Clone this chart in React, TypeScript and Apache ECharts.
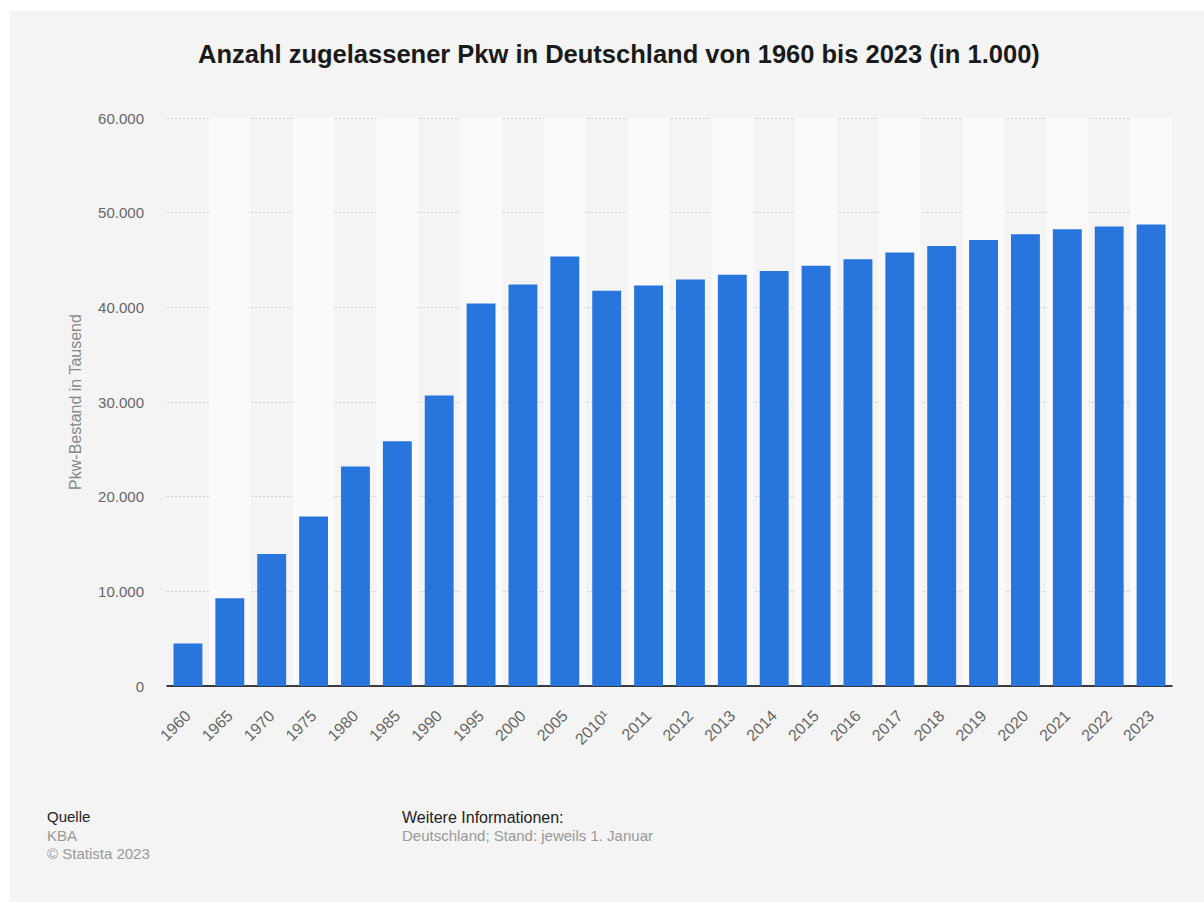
import React, { useEffect, useRef } from "react";
import * as echarts from "echarts";

const categories = [
  "1960", "1965", "1970", "1975", "1980", "1985", "1990", "1995", "2000", "2005",
  "2010¹", "2011", "2012", "2013", "2014", "2015", "2016", "2017", "2018", "2019",
  "2020", "2021", "2022", "2023",
];
const values = [
  4490, 9270, 13940, 17900, 23190, 25850, 30690, 40400, 42420, 45380,
  41740, 42300, 42930, 43430, 43850, 44400, 45070, 45800, 46470, 47100,
  47720, 48250, 48540, 48760,
];
const yTicks = { min: 0, max: 60000, interval: 10000 };

const title = "Anzahl zugelassener Pkw in Deutschland von 1960 bis 2023 (in 1.000)";
const yAxisName = "Pkw-Bestand in Tausend";

const fmt = (v: number) => String(v).replace(/\B(?=(\d{3})+(?!\d))/g, ".");

export default function App() {
  const ref = useRef<HTMLDivElement>(null);
  useEffect(() => {
    if (!ref.current) return;
    const chart = echarts.init(ref.current, null, { renderer: "svg" });
    const font = "'Liberation Sans', Arial, Helvetica, sans-serif";
    chart.setOption({
      animation: false,
      backgroundColor: "#ffffff",
      textStyle: { fontFamily: font },
      title: {
        text: title,
        left: 193,
        top: 36,
        textStyle: { fontSize: 25.5, fontWeight: "bold", color: "#1a1a1a", fontFamily: font },
      },
      grid: { left: 167, right: 32, top: 118, bottom: 216, containLabel: false },
      xAxis: {
        type: "category",
        data: categories,
        axisLine: { show: true, lineStyle: { color: "#000", width: 1.5 } },
        axisTick: { show: false },
        axisLabel: { rotate: 45, color: "#666", fontSize: 16, margin: 27, interval: 0, fontFamily: font },
        splitArea: { show: true, areaStyle: { color: ["rgba(255,255,255,0)", "#fafafa"] } },
      },
      yAxis: {
        type: "value",
        min: yTicks.min,
        max: yTicks.max,
        interval: yTicks.interval,
        name: yAxisName,
        nameLocation: "middle",
        nameGap: 84,
        nameTextStyle: { color: "#888", fontSize: 16, fontFamily: font },
        axisLine: { show: false },
        axisTick: { show: false },
        axisLabel: { color: "#666", fontSize: 15, margin: 23, formatter: (v: number) => fmt(v), fontFamily: font },
        splitLine: { show: true, lineStyle: { color: "#cfcfcf", type: [2, 2], width: 1 } },
      },
      series: [
        {
          type: "bar",
          data: values,
          barCategoryGap: "31%",
          itemStyle: { color: "#2876dd" },
        },
      ],
      graphic: [
        {
          type: "rect",
          z: -10,
          silent: true,
          shape: { x: 10, y: 11, width: 1194, height: 891 },
          style: { fill: "#f4f4f4" },
        },
        {
          type: "text",
          left: 47,
          top: 809,
          style: { text: "Quelle", fill: "#222", font: `15px ${font}` },
        },
        {
          type: "text",
          left: 47,
          top: 828,
          style: { text: "KBA", fill: "#999", font: `15px ${font}` },
        },
        {
          type: "text",
          left: 47,
          top: 846,
          style: { text: "© Statista 2023", fill: "#999", font: `15px ${font}` },
        },
        {
          type: "text",
          left: 402,
          top: 809,
          style: { text: "Weitere Informationen:", fill: "#222", font: `16px ${font}` },
        },
        {
          type: "text",
          left: 402,
          top: 828,
          style: { text: "Deutschland; Stand: jeweils 1. Januar", fill: "#999", font: `15px ${font}` },
        },
      ],
    });
    return () => chart.dispose();
  }, []);
  return (
    <div
      ref={ref}
      style={{ position: "absolute", left: 0, top: 0, width: 1204, height: 902 }}
    />
  );
}
